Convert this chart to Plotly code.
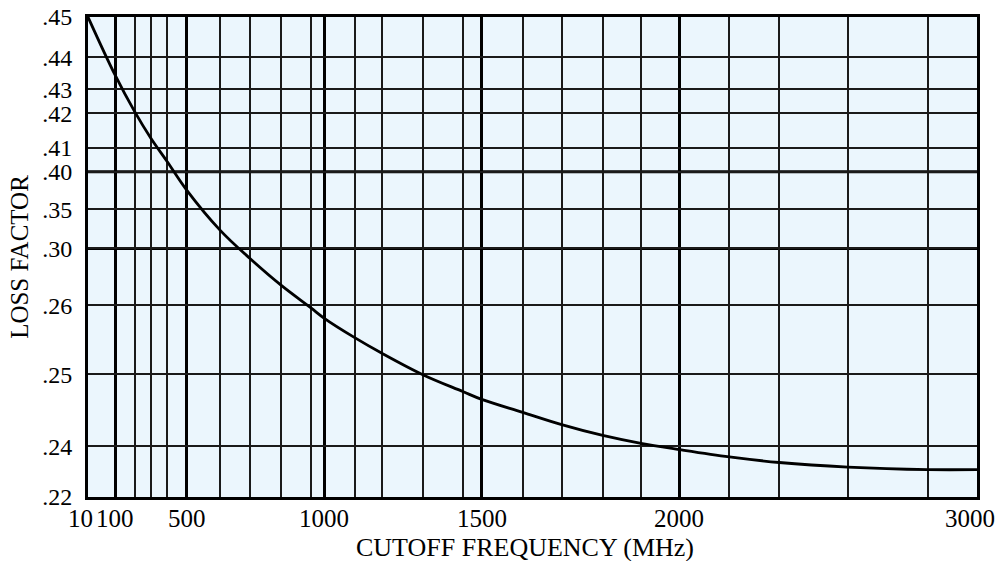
import numpy as np
import plotly.graph_objects as go

# ---- data ----
FREQ = [10, 100, 200, 300, 400, 500, 600, 700, 800, 900, 1000, 1100, 1200, 1300,
        1400, 1500, 1600, 1700, 1800, 1900, 2000, 2200, 2400, 2600, 2800, 3000]
LOSS = [0.450, 0.4345, 0.4207, 0.4127, 0.4042, 0.3757, 0.3235, 0.2929, 0.2741,
        0.2596, 0.2581, 0.2553, 0.2530, 0.2499, 0.2476, 0.2465, 0.2447, 0.2430,
        0.2415, 0.2404, 0.2387, 0.2358, 0.2336, 0.2318, 0.2308, 0.2308]

X_LABELS = [10, 100, 500, 1000, 1500, 2000, 3000]
X_MINOR = [200, 300, 400, 600, 700, 800, 900, 1100, 1200, 1300, 1400,
           1600, 1700, 1800, 1900, 2200, 2400, 2600, 2800]
Y_LABELS = [0.22, 0.24, 0.25, 0.26, 0.30, 0.35, 0.40, 0.41, 0.42, 0.43, 0.44, 0.45]
Y_TEXT = [".22", ".24", ".25", ".26", ".30", ".35", ".40", ".41", ".42", ".43", ".44", ".45"]
Y_HEAVY = [0.30, 0.40]
X_TITLE = "CUTOFF FREQUENCY (MHz)"
Y_TITLE = "LOSS FACTOR"

# ---- the chart's own (non-uniform) printed scales ----
X_SCALE_VAL = [10, 100, 200, 300, 400, 500, 600, 700, 800, 900, 1000, 1100, 1200,
               1300, 1400, 1500, 1600, 1700, 1800, 1900, 2000, 2200, 2400, 2600, 2800, 3000]
X_SCALE_POS = [0, .0304, .0525, .0709, .0892, .1110, .1485, .1822, .2171, .2508, .2658,
               .3000, .3311, .3772, .4215, .4429, .4890, .5328, .5790, .6220, .6651,
               .7214, .7776, .8546, .9445, 1.0]
Y_SCALE_VAL = [0.22, 0.24, 0.25, 0.26, 0.30, 0.35, 0.40, 0.41, 0.42, 0.43, 0.44, 0.45]
Y_SCALE_POS = [0, .1057, .2558, .3996, .5178, .5991, .6775, .7275, .7993, .8493, .9160, 1.0]


def xs(v):
    return np.interp(v, X_SCALE_VAL, X_SCALE_POS)


def ys(v):
    return np.interp(v, Y_SCALE_VAL, Y_SCALE_POS)


FONT = "Liberation Serif, Times New Roman, serif"

fig = go.Figure()
fig.add_trace(go.Scatter(
    x=xs(FREQ), y=ys(LOSS), mode="lines",
    line=dict(color="black", width=2.8, shape="spline", smoothing=1.0),
    hoverinfo="skip", showlegend=False))

# heavy horizontal rules
for v in Y_HEAVY:
    fig.add_shape(type="line", xref="paper", yref="y", x0=0, x1=1, y0=ys(v), y1=ys(v),
                  line=dict(color="black", width=3), layer="below")

# x tick labels as text under the axis
x_shift = {10: -8, 3000: -7}
for v in X_LABELS:
    fig.add_annotation(x=xs(v), y=0, xref="x", yref="paper", text=str(v),
                       showarrow=False, yanchor="top", xanchor="center",
                       xshift=x_shift.get(v, 0), yshift=-6,
                       font=dict(family=FONT, size=25, color="black"))

# x axis title
fig.add_annotation(x=0.5, y=0, xref="paper", yref="paper", text=X_TITLE,
                   showarrow=False, yanchor="top", xanchor="center",
                   xshift=-8, yshift=-34,
                   font=dict(family=FONT, size=26, color="black"))

fig.update_layout(
    width=996, height=561,
    margin=dict(l=88, r=19, t=17, b=64, autoexpand=False),
    paper_bgcolor="white", plot_bgcolor="#EBF6FD",
    font=dict(family=FONT, size=24, color="black"),
    xaxis=dict(range=[0, 1], tickvals=list(xs(X_LABELS)), ticktext=[""] * len(X_LABELS),
               showgrid=True, gridcolor="black", gridwidth=3, automargin=False,
               minor=dict(tickvals=list(xs(X_MINOR)), showgrid=True, gridcolor="#1a1a1a",
                          gridwidth=1.5, ticks=""),
               showline=True, mirror=True, linecolor="black", linewidth=3,
               zeroline=False, ticks=""),
    yaxis=dict(range=[0, 1], tickvals=list(ys(Y_LABELS)), ticktext=Y_TEXT,
               showgrid=True, gridcolor="#1a1a1a", gridwidth=1.5, automargin=False,
               showline=True, mirror=True, linecolor="black", linewidth=3,
               zeroline=False, ticks="", ticklabelstandoff=8,
               tickfont=dict(family=FONT, size=24),
               title=dict(text=Y_TITLE, standoff=7,
                          font=dict(family=FONT, size=25))),
)

fig.write_html("out.html", config={"displayModeBar": False},
               post_script="document.body.style.margin='0';document.body.style.padding='0';")
